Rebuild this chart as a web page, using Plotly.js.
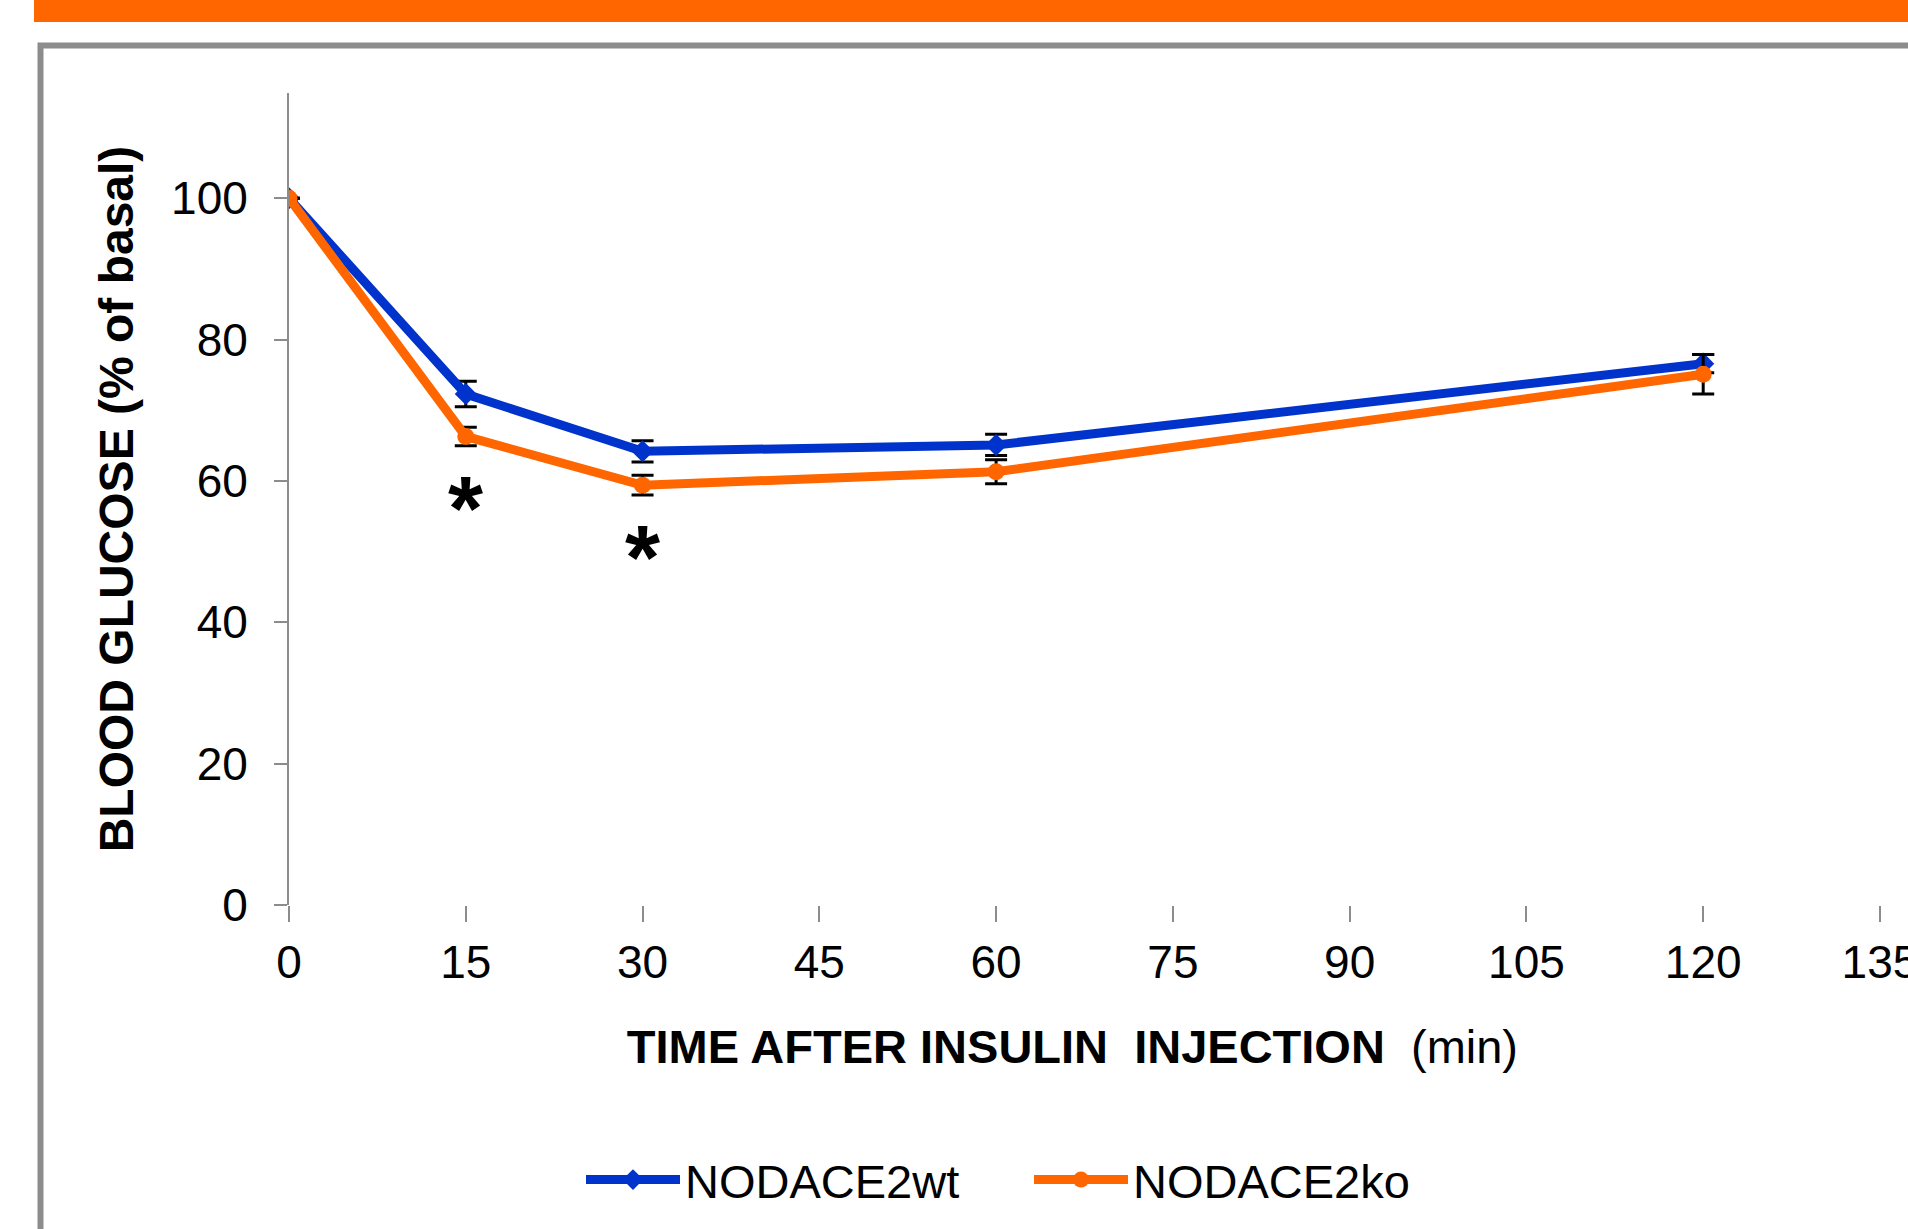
<!DOCTYPE html>
<html>
<head>
<meta charset="utf-8">
<script src="https://cdn.plot.ly/plotly-3.0.1.min.js"></script>
<style>
  html, body { margin: 0; padding: 0; background: #ffffff; }
  #chart { width: 1908px; height: 1229px; }
</style>
</head>
<body>
<div id="chart"></div>
<script>
// ---- data ----
const times = [0, 15, 30, 60, 120];
const wtValues = [100, 72.3, 64.2, 65.1, 76.6];
const wtErrors = [0, 1.8, 1.5, 1.5, 1.3];
const koValues = [100, 66.3, 59.4, 61.3, 75.1];
const koErrors = [0, 1.3, 1.4, 1.7, 2.8];
const seriesNames = ['NODACE2wt', 'NODACE2ko'];
const significantTimes = [15, 30];
const xTickValues = [0, 15, 30, 45, 60, 75, 90, 105, 120, 135];
const yTickValues = [0, 20, 40, 60, 80, 100];

// ---- style ----
const FONT = '"Liberation Sans", Arial, Helvetica, sans-serif';
const BLUE = '#0033CC';
const ORANGE = '#FF6600';
const GRAY = '#8c8c8c';

// plot-area geometry in pixels (used only for the decorative frame / legend placement)
const W = 1908, H = 1229;
const PL = 289, PT = 93, PB = 905, PR = W;
const px2x = p => (p - PL) / (PR - PL);
const py2y = p => (PB - p) / (PB - PT);

const errStyle = { type: 'data', visible: true, color: '#000000', thickness: 3, width: 11 };

const traces = [
  {
    x: times, y: wtValues, name: seriesNames[0], type: 'scatter', mode: 'lines+markers',
    line: { color: BLUE, width: 9 },
    marker: { symbol: 'diamond', size: 17, color: BLUE },
    error_y: Object.assign({ array: wtErrors }, errStyle)
  },
  {
    x: times, y: koValues, name: seriesNames[1], type: 'scatter', mode: 'lines+markers',
    line: { color: ORANGE, width: 9 },
    marker: { symbol: 'circle', size: 17, color: ORANGE },
    error_y: Object.assign({ array: koErrors }, errStyle)
  }
];

const annotations = significantTimes.map(t => ({
  x: t, y: koValues[times.indexOf(t)], xref: 'x', yref: 'y',
  text: '<b>*</b>', showarrow: false, yshift: -73,
  font: { family: FONT, size: 90, color: '#000000' }
}));

const shapes = [
  // orange header bar
  { type: 'rect', xref: 'paper', yref: 'paper', layer: 'below',
    x0: px2x(34), x1: px2x(W + 20), y0: py2y(22), y1: py2y(-20),
    fillcolor: ORANGE, line: { width: 0 } },
  // gray frame
  { type: 'rect', xref: 'paper', yref: 'paper', layer: 'below',
    x0: px2x(40.5), x1: px2x(W + 40), y0: py2y(H + 40), y1: py2y(45.5),
    fillcolor: 'rgba(0,0,0,0)', line: { color: GRAY, width: 6 } }
];

const layout = {
  width: W, height: H,
  margin: { l: PL, r: W - PR, t: PT, b: H - PB, pad: 0 },
  paper_bgcolor: '#ffffff', plot_bgcolor: '#ffffff',
  font: { family: FONT, size: 46, color: '#000000' },
  showlegend: true,
  legend: {
    orientation: 'h', x: px2x(1029), xanchor: 'center', y: py2y(1180), yanchor: 'middle',
    font: { family: FONT, size: 47, color: '#000000' },
    itemwidth: 94, entrywidth: 339, entrywidthmode: 'pixels',
    bgcolor: 'rgba(0,0,0,0)', traceorder: 'normal'
  },
  xaxis: {
    range: [0, (PR - PL) / 11.785], autorange: false,
    tickmode: 'array', tickvals: xTickValues, ticktext: xTickValues.map(String),
    showgrid: false, zeroline: false, showline: false,
    ticks: 'outside', ticklen: 16, tickwidth: 2, tickcolor: GRAY,
    ticklabelstandoff: 1, ticklabeloverflow: 'allow',
    tickfont: { family: FONT, size: 46, color: '#000000' },
    automargin: false,
    title: { text: '<b>TIME AFTER INSULIN&nbsp; INJECTION</b>&nbsp; (min)&nbsp;&nbsp;&nbsp;&nbsp;', standoff: 42,
             font: { family: FONT, size: 47, color: '#000000' } }
  },
  yaxis: {
    range: [0, 114.9], autorange: false,
    tickmode: 'array', tickvals: yTickValues, ticktext: yTickValues.map(String),
    showgrid: false, zeroline: false, showline: true, linecolor: GRAY, linewidth: 2,
    ticks: 'outside', ticklen: 13, tickwidth: 2, tickcolor: GRAY,
    ticklabelstandoff: 17,
    tickfont: { family: FONT, size: 46, color: '#000000' },
    automargin: false,
    title: { text: '<b>BLOOD GLUCOSE (% of basal)</b>', standoff: 22,
             font: { family: FONT, size: 48, color: '#000000' } }
  },
  annotations: annotations,
  shapes: shapes
};

Plotly.newPlot('chart', traces, layout, { displayModeBar: false, staticPlot: true });
</script>
</body>
</html>
